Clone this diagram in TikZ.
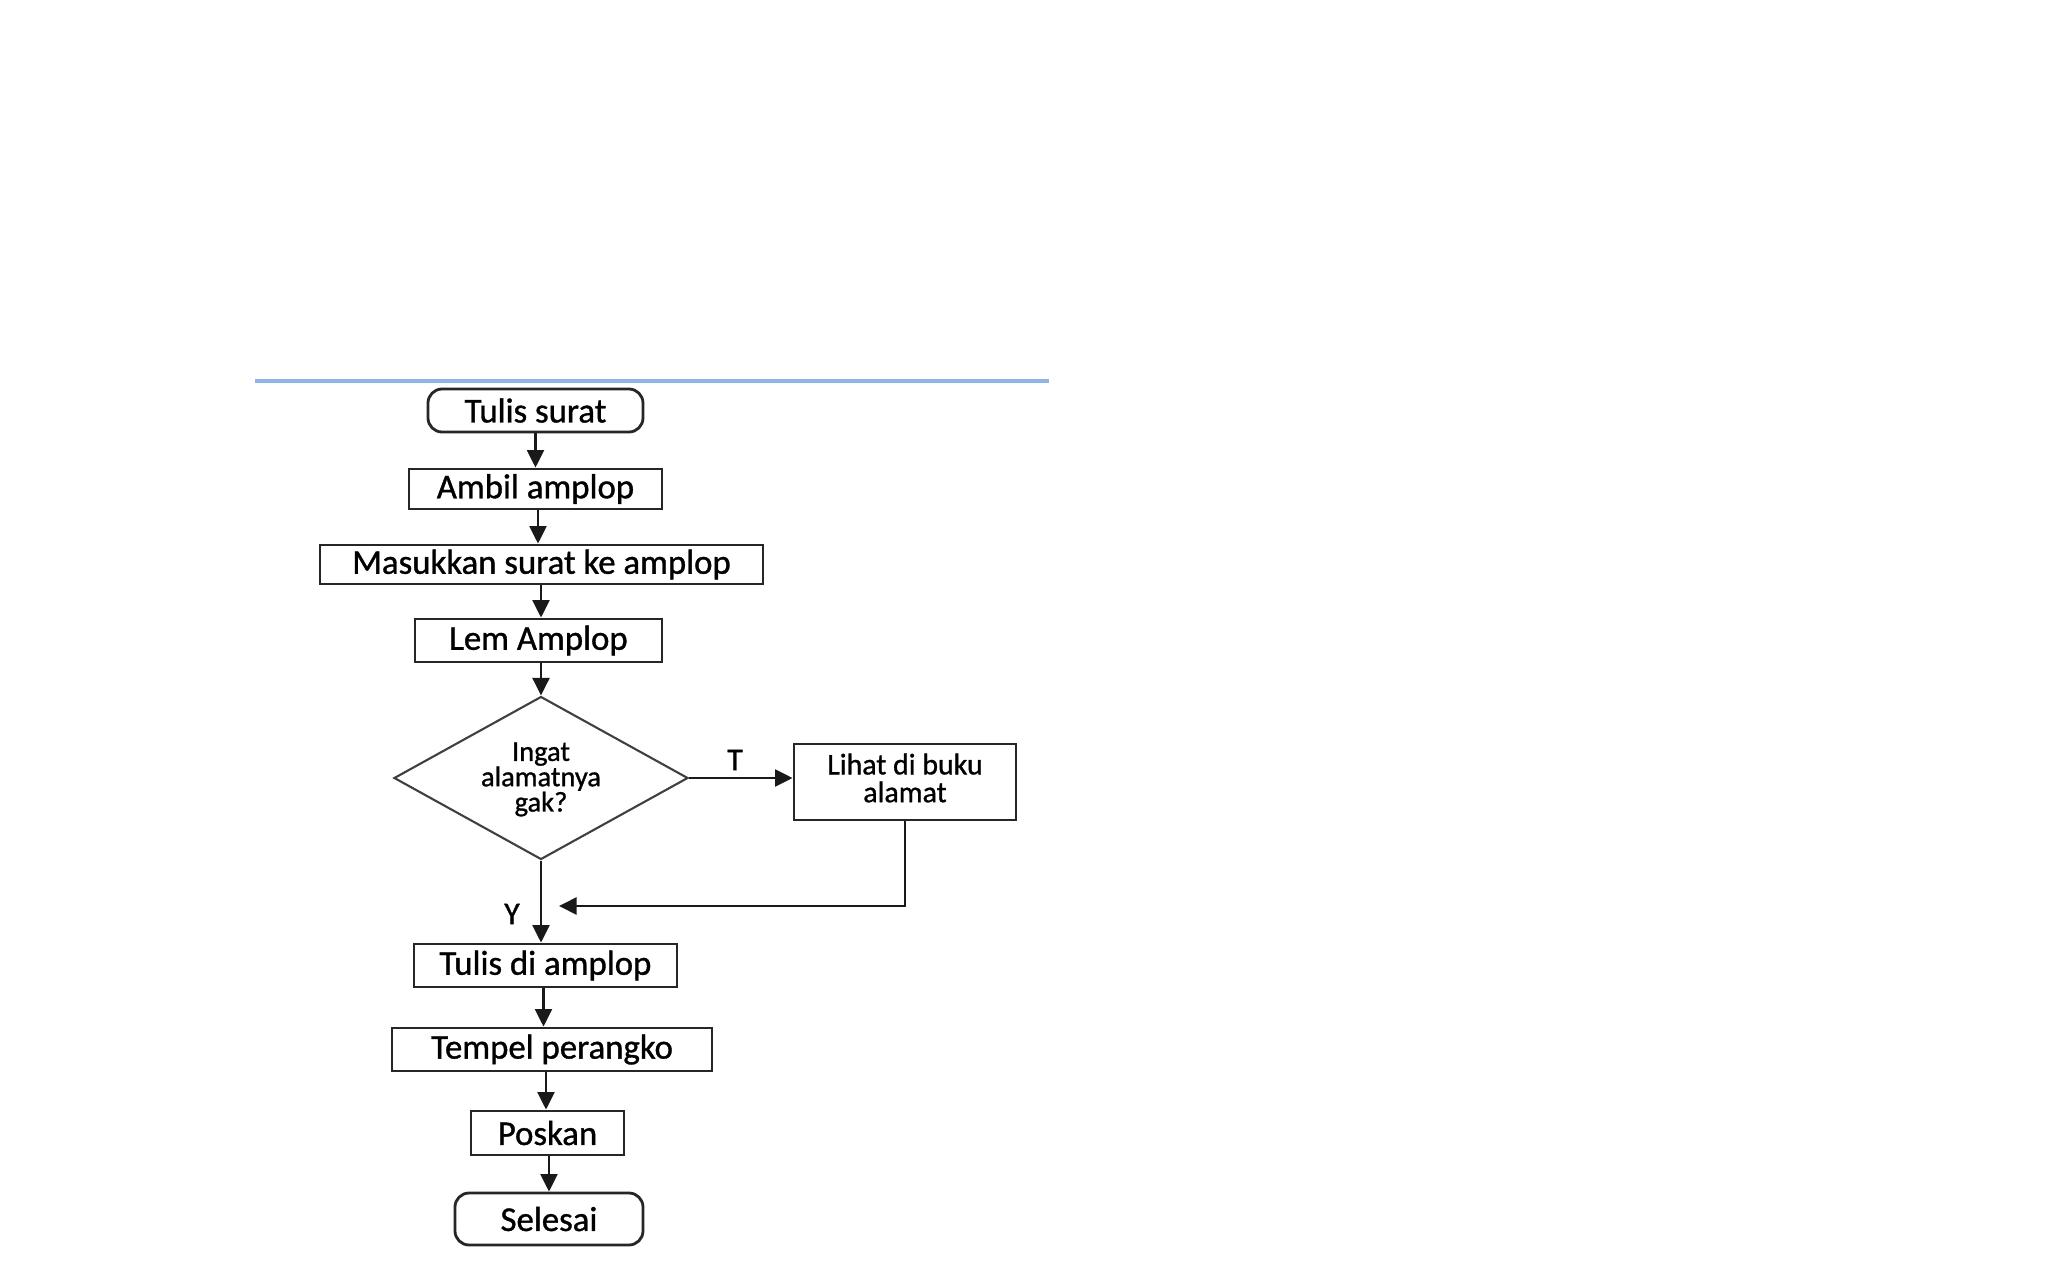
\documentclass[tikz,border=0pt]{standalone}
\usepackage{fontspec}
\setmainfont{Carlito}
\newfontfamily\calb{Carlito}[FakeBold=1.0]
\usetikzlibrary{shapes.geometric,arrows.meta}
\begin{document}
\begin{tikzpicture}[x=1cm,y=1cm,
  box/.style={draw=black!85, line width=0.8pt, rectangle, inner sep=0pt, font=\calb\fontsize{9.9}{12}\selectfont},
  term/.style={box, rounded corners=4pt},
  dec/.style={draw=black!75, line width=0.6pt, diamond, inner sep=0pt},
  dtext/.style={align=center, inner sep=0pt, font=\calb\fontsize{8.1}{7.2}\selectfont},
  ltext/.style={align=center, inner sep=0pt, font=\calb\fontsize{8.5}{7.9}\selectfont},
  arr/.style={-{Triangle[length=5pt,width=4.8pt]}, line width=0.8pt, black!90},
  lbl/.style={font=\calb\fontsize{9}{10}\selectfont}]
\useasboundingbox (0,0) rectangle (20.48,-12.67);
\fill[white] (0,0) rectangle (20.48,-12.67);
\draw[line width=0.9pt, color={rgb,255:red,141;green,180;blue,226}] (2.55,-3.81) coordinate (bl1) -- (10.49,-3.81) coordinate (bl2);

\node[term, minimum width=2.15cm, minimum height=0.43cm] (n1) at (5.355,-4.105) {Tulis surat};
\node[box, minimum width=2.53cm, minimum height=0.40cm] (n2) at (5.355,-4.89) {Ambil amplop};
\node[box, minimum width=4.43cm, minimum height=0.39cm] (n3) at (5.415,-5.645) {Masukkan surat ke amplop};
\node[box, minimum width=2.47cm, minimum height=0.43cm] (n4) at (5.385,-6.405) {Lem Amplop};
\node[dec, minimum width=2.94cm, minimum height=1.63cm] (d) at (5.41,-7.78) {};
\node[dtext] (dt) at (5.41,-7.795) {Ingat\\alamatnya\\gak?};
\node[box, minimum width=2.22cm, minimum height=0.76cm] (l) at (9.05,-7.82) {};
\node[ltext] (lt) at (9.05,-7.78) {Lihat di buku\\alamat};
\node[box, minimum width=2.63cm, minimum height=0.43cm] (n5) at (5.455,-9.655) {Tulis di amplop};
\node[box, minimum width=3.20cm, minimum height=0.43cm] (n6) at (5.52,-10.495) {Tempel perangko};
\node[box, minimum width=1.53cm, minimum height=0.44cm] (n7) at (5.475,-11.33) {Poskan};
\node[term, minimum width=1.88cm, minimum height=0.52cm] (n8) at (5.49,-12.19) {Selesai};

\coordinate (ret) at (5.59,-9.06);

\draw[arr] (n1.south) -- (n1.south |- n2.north);
\draw[arr] ([xshift=0.025cm]n2.south) -- ([xshift=0.025cm]n2.south |- n3.north);
\draw[arr] (d.north |- n3.south) -- (d.north |- n4.north);
\draw[arr] (d.north |- n4.south) -- (d.north);
\draw[arr] (d.east) -- (d.east -| l.west);
\draw[arr] (l.south) |- (ret);
\draw[arr] (d.south) -- (d.south |- n5.north);
\draw[arr] ([xshift=-0.02cm]n5.south) -- ([xshift=-0.02cm]n5.south |- n6.north);
\draw[arr] ([xshift=-0.06cm]n6.south) -- ([xshift=-0.06cm]n6.south |- n7.north);
\draw[arr] ([xshift=0.015cm]n7.south) -- ([xshift=0.015cm]n7.south |- n8.north);

\node[lbl] (tl) at (7.35,-7.60) {T};
\node[lbl] (yl) at (5.12,-9.14) {Y};
\end{tikzpicture}
\end{document}
